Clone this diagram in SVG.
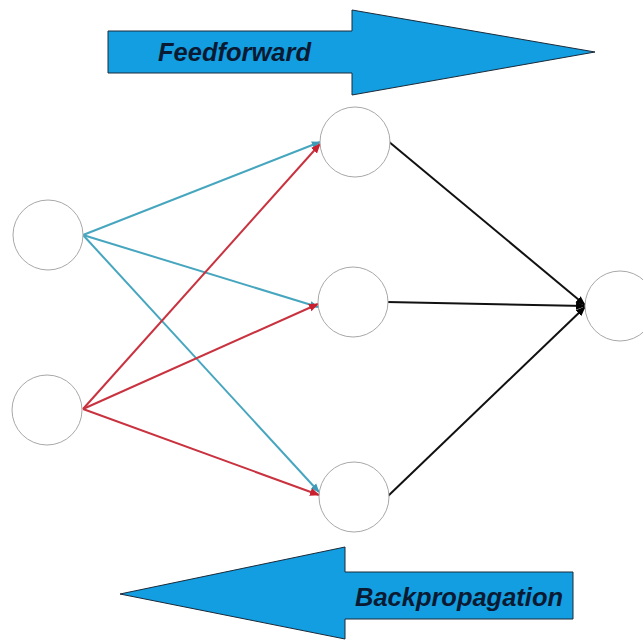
<svg xmlns="http://www.w3.org/2000/svg" width="643" height="641" viewBox="0 0 643 641">
  <style>
    .big { fill: #129ee0; stroke: #1a2a3a; stroke-width: 1; }
    .lbl { font-family: "Liberation Sans", Arial, sans-serif; font-weight: bold; font-style: italic; font-size: 26px; fill: #0b1a33; }
    .node { fill: #ffffff; stroke: #a8a8a8; stroke-width: 1; }
    .blue { stroke: #47a6bf; stroke-width: 2; fill: none; }
    .red { stroke: #c9323f; stroke-width: 2; fill: none; }
    .black { stroke: #111111; stroke-width: 2; fill: none; }
  </style>
  <defs>
    <marker id="ahBlue" viewBox="0 0 10 10" refX="9" refY="5" markerWidth="9" markerHeight="9" orient="auto" markerUnits="userSpaceOnUse">
      <path d="M0,1 L10,5 L0,9 z" fill="#3f9ab8"/>
    </marker>
    <marker id="ahRed" viewBox="0 0 10 10" refX="9" refY="5" markerWidth="10" markerHeight="10" orient="auto" markerUnits="userSpaceOnUse">
      <path d="M0,1 L10,5 L0,9 z" fill="#c9202f"/>
    </marker>
    <marker id="ahBlack" viewBox="0 0 10 10" refX="9" refY="5" markerWidth="10" markerHeight="10" orient="auto" markerUnits="userSpaceOnUse">
      <path d="M0,1 L10,5 L0,9 z" fill="#000000"/>
    </marker>
  </defs>

  <!-- direction arrows -->
  <g id="feedforward">
    <path class="big" d="M108,31 H352 V10 L595,52 L352,95 V73 H108 Z"/>
    <text class="lbl" x="158" y="61" textLength="153" lengthAdjust="spacingAndGlyphs">Feedforward</text>
  </g>
  <g id="backpropagation">
    <path class="big" d="M573,572 H345 V547 L120,594 L345,639 V619 H573 Z"/>
    <text class="lbl" x="355" y="606" textLength="208" lengthAdjust="spacingAndGlyphs">Backpropagation</text>
  </g>

  <!-- connectors -->
  <g id="connectors">
    <line class="blue" x1="83" y1="235" x2="320" y2="142" marker-end="url(#ahBlue)"/>
    <line class="blue" x1="83" y1="235" x2="318" y2="307" marker-end="url(#ahBlue)"/>
    <line class="blue" x1="83" y1="235" x2="319" y2="492" marker-end="url(#ahBlue)"/>
    <line class="red" x1="83" y1="409" x2="320" y2="144" marker-end="url(#ahRed)"/>
    <line class="red" x1="83" y1="409" x2="318" y2="304" marker-end="url(#ahRed)"/>
    <line class="red" x1="83" y1="409" x2="319" y2="495" marker-end="url(#ahRed)"/>
    <line class="black" x1="388" y1="141" x2="585" y2="305" marker-end="url(#ahBlack)"/>
    <line class="black" x1="387" y1="302" x2="585" y2="306" marker-end="url(#ahBlack)"/>
    <line class="black" x1="387" y1="497" x2="585" y2="307" marker-end="url(#ahBlack)"/>
  </g>

  <!-- nodes -->
  <g id="in1"><circle class="node" cx="48" cy="235" r="35"/></g>
  <g id="in2"><circle class="node" cx="47" cy="410" r="35"/></g>
  <g id="h1"><circle class="node" cx="355" cy="142" r="35"/></g>
  <g id="h2"><circle class="node" cx="353" cy="302" r="35"/></g>
  <g id="h3"><circle class="node" cx="354" cy="497" r="35"/></g>
  <g id="out"><circle class="node" cx="620" cy="306" r="35"/></g>
</svg>
